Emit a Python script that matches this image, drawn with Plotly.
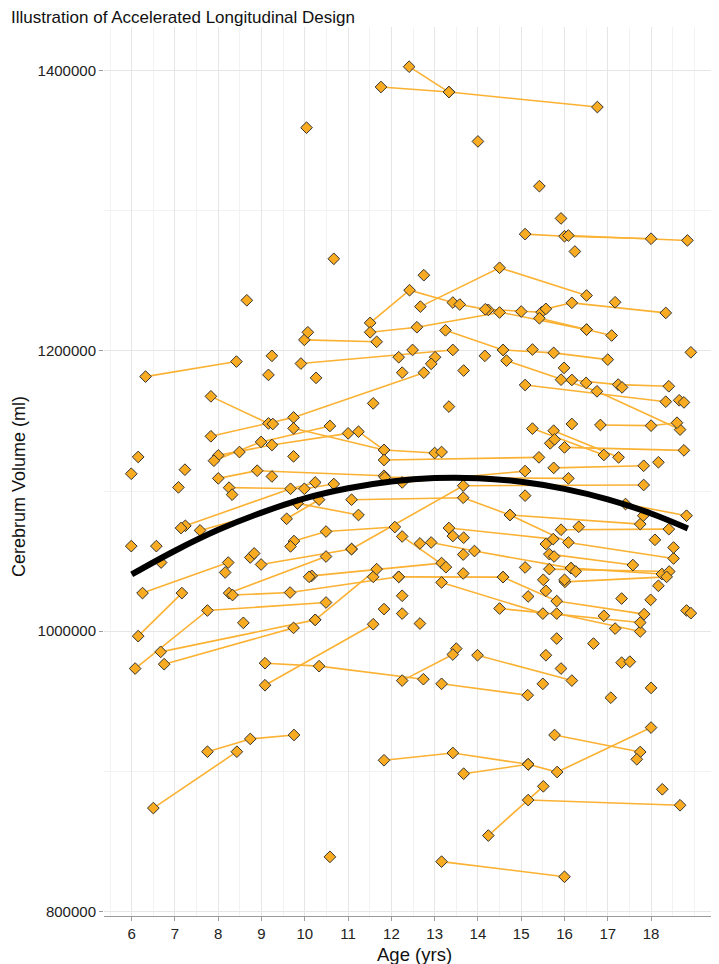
import plotly.graph_objects as go

# ---- data (age in years, cerebrum volume in ml), one list per subject ----
subject_ages = [
    [11.76, 13.33, 16.76], [12.41, 13.33], [10.04], [14.0], [15.42], [15.92], [16.24], [10.67], [8.66],
    [15.09, 16.0, 18.0], [16.09, 18.84],
    [11.51, 12.42, 13.42], [13.58, 14.24, 16.51], [14.17, 15.0, 15.47], [11.51, 12.59, 14.50],
    [15.57, 16.17, 18.34], [15.42, 16.51, 17.09], [17.17], [12.67, 14.50, 16.51], [12.75],
    [9.91, 13.42], [13.25, 14.58], [14.58, 15.75, 17.0], [14.66, 16.75, 18.67],
    [15.26], [12.49], [12.17], [13.01], [12.92], [14.16], [12.25], [13.67], [10.26], [11.58], [13.33],
    [7.83, 9.74, 12.75], [6.32, 8.42], [7.83, 9.16], [9.99, 11.66],
    [10.07], [9.24], [9.16], [9.26], [9.74], [6.15], [7.23], [9.24], [5.99], [8.49],
    [8.0, 9.24, 11.0], [7.90, 8.99, 10.58], [9.74, 11.83], [11.24, 11.83, 13.0], [13.16],
    [11.83, 15.41], [8.0, 8.90, 11.83],
    [16.17, 17.24, 18.41], [15.09, 18.34],
    [15.99], [15.92], [16.50], [17.33], [18.65], [18.76], [18.92],
    [16.83, 18.0, 18.6], [15.26, 16.91], [15.75, 17.25], [16.0, 18.76],
    [15.67], [15.77], [16.17], [18.17],
    [15.75, 17.83], [12.25, 15.09], [11.85, 16.09],
    [11.08, 13.66, 14.74], [11.08, 13.66, 17.83], [14.74, 17.75], [17.41, 18.82], [15.92, 18.41],
    [13.33, 15.74], [14.74, 16.09, 18.52], [15.65, 17.58], [12.92, 13.92, 16.15], [16.15, 18.25],
    [15.65, 18.42], [16.01, 18.36], [14.58, 15.82, 17.84], [13.16, 15.50], [15.82, 17.75],
    [14.50, 17.75], [13.99, 16.17], [13.16, 15.15],
    [15.09], [17.82], [16.33], [15.57], [18.09], [18.52], [15.76], [15.09], [16.26], [18.17],
    [15.51], [16.0], [15.57], [15.16], [17.32], [17.99], [16.91], [17.17], [18.82], [18.92],
    [15.82], [16.67], [15.57], [17.32], [17.51], [15.92], [15.50], [18.0], [17.07],
    [10.16, 13.16], [12.17, 14.58], [12.25, 13.26],
    [13.66], [13.42], [13.67], [12.66], [13.66], [11.58], [11.83], [12.25], [12.25], [12.66], [13.5],
    [9.75, 10.49, 12.08], [7.24, 9.67, 10.24], [8.25, 9.99, 10.67], [9.58, 10.33], [9.83, 11.24],
    [7.58, 9.83], [6.25, 8.23], [6.15, 7.16], [6.08, 7.75, 10.49], [8.25, 10.49], [8.99, 11.08],
    [8.33, 9.66, 12.17], [6.75, 9.74], [6.67, 10.24], [10.24, 11.66], [9.08, 10.33, 12.74],
    [9.08, 11.58], [12.25, 13.42],
    [7.08], [8.32], [7.14], [5.99], [6.57], [6.68], [8.16], [8.74], [8.83], [9.67], [10.10], [8.58],
    [6.5, 8.43], [7.75, 8.74, 9.75], [11.83, 13.42, 15.16], [13.67, 15.16], [15.16, 15.83, 18.0],
    [15.77, 17.75], [17.67], [18.26], [10.58], [14.24, 15.51], [15.16, 18.67], [13.16, 16.0],
]

subject_volumes = [
    [1388100, 1384500, 1373800], [1402600, 1384500], [1359100], [1349300], [1317400], [1294400], [1270800], [1265600], [1236000],
    [1283200, 1281700, 1279900], [1282200, 1278700],
    [1219900, 1243200, 1234400], [1233000, 1229200, 1215100], [1229600, 1228000, 1227500], [1213200, 1216800, 1227300],
    [1229900, 1234200, 1227000], [1223200, 1215100, 1210900], [1234600], [1231500, 1259200, 1239400], [1253900],
    [1190900, 1200600], [1214600, 1200600], [1200600, 1198500, 1193700], [1193000, 1171100, 1143800],
    [1200900], [1200600], [1195400], [1195400], [1190700], [1196400], [1184400], [1185900], [1180700], [1162500], [1160200],
    [1139000, 1152500, 1184400], [1181600, 1192300], [1167500, 1148200], [1207800, 1206400],
    [1213200], [1196400], [1182800], [1147800], [1124700], [1124300], [1115200], [1110400], [1112300], [1127800],
    [1125400, 1132800, 1141100], [1121600, 1135000, 1146400], [1144700, 1129300], [1142300, 1129300, 1127100], [1127800],
    [1122100, 1124000], [1109000, 1114500, 1110900],
    [1179200, 1175900, 1174700], [1175600, 1163700],
    [1187800], [1179400], [1177100], [1173900], [1164700], [1163200], [1198900],
    [1147100, 1146600, 1148700], [1144500, 1125700], [1143000, 1124000], [1131100, 1129000],
    [1134000], [1136800], [1147800], [1120500],
    [1116500, 1118000], [1106100, 1114200], [1109700, 1109000],
    [1093800, 1095200, 1082900], [1058600, 1103800, 1104300], [1082900, 1076400], [1090700, 1082400], [1072400, 1072800],
    [1073600, 1065700], [1082900, 1063300, 1051900], [1055000, 1047200], [1063300, 1057200, 1045000], [1045000, 1040800],
    [1044300, 1042600], [1035200, 1038800], [1038600, 1021500, 1012200], [1034800, 1012600], [1012600, 999800],
    [1016200, 1006200], [982900, 964800], [962500, 954400],
    [1096700], [1082400], [1074500], [1062200], [1065200], [1059700], [1053300], [1045500], [1042600], [1032400],
    [1036700], [1036700], [1028800], [1024800], [1023300], [1022400], [1011000], [1001900], [1014800], [1012900],
    [994800], [991200], [982900], [977600], [978300], [973400], [962500], [959600], [952600],
    [1039500, 1048600], [1038800, 1038600], [1067600, 1045700],
    [1041200], [1067900], [1066700], [1062600], [1054700], [1038800], [1015800], [1025300], [1012600], [1005500], [987600],
    [1064300, 1071100, 1074300], [1075200, 1101600, 1106100], [1102400, 1101600, 1105000], [1080200, 1093800], [1091200, 1082900],
    [1071900, 1091200], [1027200, 1049000], [996500, 1027200], [973400, 1014800, 1020500], [1027200, 1053300], [1047600, 1058600],
    [1025800, 1027600, 1038800], [976500, 1002400], [985300, 1008100], [1008100, 1044300], [977200, 975100, 965800],
    [961500, 1005000], [964800, 983400],
    [1102600], [1097400], [1073600], [1060700], [1060700], [1049000], [1041900], [1052600], [1055500], [1060500], [1038800], [1006000],
    [873900, 914100], [914100, 923200, 926000], [908000, 913200, 905100], [898400, 905100], [905100, 899600, 931300],
    [926000, 913900], [908700], [887300], [839100], [854300, 889400], [879600, 875900], [835700, 824900],
]

# fitted group trajectory
curve_ages = [6, 7, 8, 9, 10, 11, 12, 13, 14, 15, 16, 17, 18, 18.85]
curve_volumes = [1040500, 1057400, 1072300, 1084600, 1094800, 1102000, 1106800, 1109200, 1109100,
                 1106600, 1101500, 1094000, 1084000, 1073300]

x_tick_vals = [6, 7, 8, 9, 10, 11, 12, 13, 14, 15, 16, 17, 18]
y_tick_vals = [800000, 1000000, 1200000, 1400000]

ORANGE = "#F9AC22"
LINE_ORANGE = "#FBB132"
FONT = "Liberation Sans, Arial, sans-serif"

# ---- build traces ----
line_x, line_y = [], []
pt_x, pt_y = [], []
for a, v in zip(subject_ages, subject_volumes):
    pt_x.extend(a)
    pt_y.extend(v)
    if len(a) > 1:
        line_x.extend(a + [None])
        line_y.extend(v + [None])

fig = go.Figure()
fig.add_trace(go.Scatter(x=line_x, y=line_y, mode="lines",
                         line=dict(color=LINE_ORANGE, width=1.6),
                         hoverinfo="skip", showlegend=False))
fig.add_trace(go.Scatter(x=pt_x, y=pt_y, mode="markers",
                         marker=dict(symbol="diamond", size=9, color=ORANGE,
                                     line=dict(color="#333333", width=1)),
                         showlegend=False))
fig.add_trace(go.Scatter(x=curve_ages, y=curve_volumes, mode="lines",
                         line=dict(color="black", width=6, shape="spline"),
                         showlegend=False))

# page shows the figure offset by the 8px body margin, so the figure is 8px smaller
W, H = 711, 956
fig.update_layout(
    width=W, height=H,
    margin=dict(l=96, r=0, t=19, b=48),
    paper_bgcolor="white", plot_bgcolor="white",
    font=dict(family=FONT, color="#222222"),
    title=dict(text="Illustration of Accelerated Longitudinal Design",
               x=3 / W, xref="container", xanchor="left",
               y=1 - 3 / H, yref="container", yanchor="top",
               font=dict(size=17, color="#111111", family=FONT)),
    showlegend=False,
)

fig.update_xaxes(
    range=[5.36, 19.57], tickmode="array", tickvals=x_tick_vals,
    ticktext=[str(t) for t in x_tick_vals],
    showgrid=True, gridcolor="#E6E6E6", gridwidth=1,
    minor=dict(dtick=0.5, tick0=5.5, showgrid=True, gridcolor="#F2F2F2", gridwidth=0.8),
    showline=True, linecolor="#9A9A9A", linewidth=1,
    ticks="outside", ticklen=4, tickcolor="#9A9A9A",
    tickfont=dict(size=15, color="#222222"), zeroline=False,
)
fig.update_yaxes(
    range=[796930, 1430900], tickmode="array", tickvals=y_tick_vals,
    ticktext=[str(t) for t in y_tick_vals],
    showgrid=True, gridcolor="#E6E6E6", gridwidth=1,
    minor=dict(dtick=100000, tick0=900000, showgrid=True, gridcolor="#F2F2F2", gridwidth=0.8),
    showline=False, ticks="outside", ticklen=4, tickcolor="#9A9A9A",
    tickfont=dict(size=15, color="#222222"), zeroline=False,
)

fig.add_annotation(text="Age (yrs)", xref="paper", yref="paper",
                   x=0.505, y=-38 / 889,
                   xanchor="center", yanchor="middle", showarrow=False,
                   font=dict(size=18.5, color="#111111", family=FONT))
fig.add_annotation(text="Cerebrum Volume (ml)", xref="paper", yref="paper",
                   x=-85 / 615, y=(908 - 479) / 889,
                   xanchor="center", yanchor="middle", textangle=-90, showarrow=False,
                   font=dict(size=18, color="#111111", family=FONT))

fig.write_html("out.html")
